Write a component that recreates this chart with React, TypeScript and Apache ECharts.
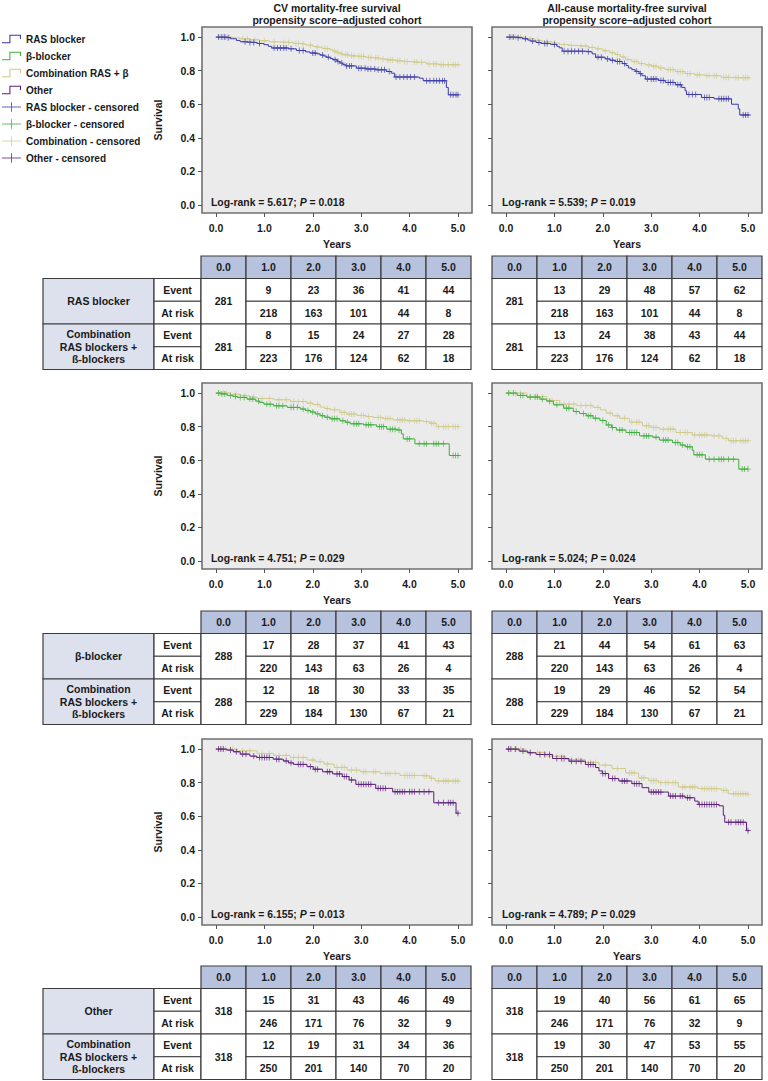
import React, { useEffect, useRef } from "react";
import * as echarts from "echarts";

const FONT = '"Liberation Sans", Arial, Helvetica, sans-serif';
const C_RAS = "#3a3aa8";
const C_BB = "#3fae3f";
const C_COMB = "#d0ca8c";
const C_OTHER = "#5c1f7a";

const TICKS_X = [0, 1, 2, 3, 4, 5];
const TICKS_Y = [0, 0.2, 0.4, 0.6, 0.8, 1.0];
const TABLE_HEAD = ["0.0", "1.0", "2.0", "3.0", "4.0", "5.0"];

// ---- Kaplan-Meier curves [years, survival] ----
const cvRas = [[0,1],[0.22,0.996],[0.3,0.99],[0.42,0.98],[0.5,0.972],[0.62,0.968],[0.85,0.962],[0.99,0.955],[1.08,0.945],[1.15,0.935],[1.5,0.93],[1.66,0.92],[1.85,0.912],[1.94,0.905],[2.08,0.9],[2.15,0.893],[2.22,0.887],[2.28,0.88],[2.36,0.872],[2.42,0.865],[2.5,0.855],[2.56,0.845],[2.62,0.836],[2.68,0.828],[2.9,0.815],[3.1,0.81],[3.3,0.805],[3.52,0.795],[3.62,0.785],[3.69,0.762],[4.2,0.755],[4.28,0.74],[4.76,0.7],[4.8,0.656],[5.02,0.656]];
const cvComb1 = [[0,1],[0.35,0.995],[0.5,0.99],[0.7,0.984],[0.9,0.978],[1.1,0.972],[1.32,0.968],[1.6,0.962],[1.75,0.958],[1.87,0.952],[2.0,0.945],[2.08,0.94],[2.2,0.932],[2.35,0.924],[2.42,0.916],[2.49,0.908],[2.56,0.9],[2.63,0.894],[2.75,0.888],[2.9,0.884],[3.1,0.879],[3.25,0.875],[3.4,0.869],[3.52,0.864],[3.7,0.859],[3.87,0.854],[4.05,0.851],[4.2,0.849],[4.35,0.84],[4.6,0.835],[5.02,0.833]];
const acRas = [[0,1],[0.2,0.996],[0.34,0.99],[0.45,0.982],[0.51,0.976],[0.62,0.968],[0.72,0.962],[0.92,0.956],[1.05,0.945],[1.1,0.936],[1.16,0.916],[1.64,0.912],[1.78,0.9],[1.85,0.88],[2.05,0.87],[2.15,0.862],[2.26,0.855],[2.4,0.842],[2.48,0.83],[2.53,0.816],[2.6,0.806],[2.67,0.796],[2.75,0.782],[2.81,0.77],[2.88,0.75],[3.15,0.742],[3.29,0.73],[3.5,0.716],[3.63,0.7],[3.7,0.68],[3.73,0.658],[4.04,0.64],[4.3,0.632],[4.66,0.6],[4.8,0.572],[4.83,0.536],[5.03,0.536]];
const acComb1 = [[0,1],[0.41,0.99],[0.6,0.98],[0.75,0.972],[0.95,0.964],[1.1,0.956],[1.3,0.95],[1.5,0.946],[1.7,0.938],[1.85,0.93],[2.0,0.918],[2.15,0.906],[2.26,0.896],[2.36,0.882],[2.47,0.866],[2.6,0.854],[2.74,0.842],[2.88,0.834],[3.01,0.826],[3.15,0.816],[3.29,0.806],[3.5,0.794],[3.7,0.782],[3.9,0.775],[4.11,0.77],[4.45,0.76],[4.7,0.757],[5.05,0.757]];
const cvBb = [[0,1],[0.1,0.995],[0.23,0.986],[0.35,0.98],[0.44,0.974],[0.64,0.964],[0.82,0.952],[0.9,0.944],[0.99,0.934],[1.19,0.924],[1.47,0.915],[1.74,0.905],[1.85,0.896],[1.95,0.887],[2.05,0.876],[2.15,0.865],[2.25,0.856],[2.36,0.847],[2.56,0.835],[2.68,0.826],[2.77,0.817],[3.05,0.811],[3.32,0.8],[3.53,0.785],[3.73,0.78],[3.83,0.757],[3.87,0.727],[4.11,0.698],[4.82,0.628],[5.03,0.628]];
const cvComb2 = [[0,1],[0.3,0.993],[0.5,0.984],[0.7,0.975],[0.85,0.968],[1.19,0.96],[1.54,0.95],[1.88,0.94],[2.0,0.932],[2.15,0.917],[2.25,0.908],[2.36,0.9],[2.56,0.885],[2.7,0.875],[2.91,0.867],[3.1,0.86],[3.25,0.855],[3.45,0.848],[3.66,0.84],[3.94,0.835],[4.28,0.83],[4.42,0.82],[4.55,0.8],[5.03,0.797]];
const acBb = [[0,1],[0.23,0.986],[0.43,0.976],[0.7,0.964],[0.84,0.952],[0.98,0.93],[1.19,0.91],[1.39,0.89],[1.52,0.878],[1.66,0.865],[1.8,0.85],[1.94,0.837],[2.07,0.81],[2.18,0.795],[2.28,0.78],[2.48,0.765],[2.76,0.745],[3.03,0.737],[3.17,0.72],[3.44,0.705],[3.6,0.69],[3.71,0.68],[3.85,0.658],[3.88,0.632],[4.12,0.606],[4.81,0.547],[5.01,0.547]];
const acComb2 = [[0,1],[0.43,0.98],[0.84,0.956],[1.11,0.934],[1.46,0.926],[1.8,0.915],[1.95,0.9],[2.07,0.88],[2.2,0.865],[2.35,0.85],[2.55,0.827],[2.82,0.805],[3.0,0.795],[3.17,0.785],[3.51,0.765],[3.85,0.75],[4.26,0.745],[4.47,0.73],[4.6,0.716],[5.01,0.716]];
const cvOther = [[0,1],[0.22,0.994],[0.36,0.984],[0.5,0.97],[0.7,0.958],[0.84,0.95],[1.18,0.94],[1.39,0.929],[1.5,0.918],[1.6,0.909],[1.88,0.895],[2.01,0.88],[2.2,0.865],[2.41,0.852],[2.61,0.836],[2.75,0.816],[2.89,0.79],[3.3,0.766],[3.65,0.746],[4.5,0.68],[4.96,0.618],[5.02,0.618]];
const cvComb3 = [[0,1],[0.44,0.99],[0.85,0.974],[1.19,0.962],[1.53,0.95],[1.88,0.935],[2.05,0.925],[2.23,0.911],[2.44,0.891],[2.71,0.875],[2.98,0.865],[3.39,0.855],[3.8,0.843],[4.21,0.84],[4.42,0.826],[4.53,0.81],[5.03,0.806]];
const acOther = [[0,1],[0.27,0.988],[0.45,0.978],[0.62,0.968],[0.96,0.944],[1.3,0.928],[1.64,0.908],[1.85,0.89],[1.92,0.87],[1.99,0.854],[2.12,0.824],[2.33,0.81],[2.6,0.794],[2.81,0.77],[2.95,0.744],[3.36,0.72],[3.7,0.71],[3.9,0.69],[3.97,0.67],[4.4,0.662],[4.49,0.606],[4.52,0.564],[4.97,0.514],[5.03,0.514]];
const acComb3 = [[0,1],[0.41,0.98],[0.82,0.958],[1.23,0.938],[1.64,0.92],[1.92,0.904],[2.19,0.884],[2.47,0.858],[2.74,0.828],[2.95,0.812],[3.15,0.8],[3.56,0.774],[3.97,0.764],[4.45,0.754],[4.59,0.734],[5.0,0.73]];

// ---- censoring times (years) ----
const cvRasCens = [0.05,0.12,0.18,0.25,0.6,0.7,0.78,0.9,1.2,1.27,1.33,1.4,1.45,1.55,1.72,1.8,2.0,2.05,2.2,2.32,2.46,2.52,2.6,2.7,2.76,2.8,2.95,3.0,3.08,3.14,3.2,3.28,3.35,3.42,3.48,3.58,3.72,3.8,3.88,3.95,4.02,4.1,4.35,4.42,4.5,4.56,4.62,4.68,4.72,4.85,4.9,4.96,5.0];
const cvComb1Cens = [0.08,0.15,0.2,0.28,0.55,0.65,0.8,1.0,1.2,1.4,1.5,1.65,1.7,1.8,1.95,2.1,2.25,2.3,2.45,2.52,2.6,2.68,2.72,2.8,2.85,2.95,3.0,3.05,3.15,3.2,3.3,3.35,3.45,3.55,3.6,3.65,3.75,3.8,3.9,3.95,4.1,4.15,4.25,4.4,4.5,4.55,4.65,4.7,4.8,4.9,4.95,5.0];
const acRasCens = [0.08,0.15,0.25,0.4,0.55,0.68,0.8,0.85,1.0,1.2,1.28,1.35,1.42,1.5,1.58,1.7,1.9,1.97,2.1,2.2,2.3,2.35,2.45,2.7,2.78,2.92,3.0,3.05,3.1,3.2,3.25,3.35,3.4,3.45,3.55,3.6,3.78,3.85,3.92,4.1,4.15,4.2,4.4,4.45,4.5,4.55,4.6,4.9,4.95,5.0];
const acComb1Cens = [0.06,0.12,0.2,0.3,0.5,0.65,0.85,1.0,1.2,1.35,1.55,1.65,1.78,1.9,2.05,2.2,2.3,2.42,2.52,2.65,2.7,2.8,2.95,3.05,3.1,3.2,3.35,3.4,3.45,3.55,3.6,3.65,3.75,3.8,3.95,4.0,4.15,4.2,4.3,4.35,4.5,4.55,4.6,4.75,4.8,4.9,4.95,5.0];
const cvBbCens = [0.05,0.12,0.18,0.3,0.4,0.5,0.58,0.7,0.76,0.88,1.05,1.12,1.25,1.3,1.38,1.55,1.6,1.68,1.8,1.9,2.0,2.1,2.2,2.3,2.4,2.45,2.5,2.62,2.72,2.85,2.9,2.95,3.1,3.15,3.2,3.38,3.42,3.46,3.6,3.65,3.7,3.78,3.95,4.0,4.2,4.3,4.35,4.5,4.55,4.6,4.7,4.9,4.95,5.0];
const cvComb2Cens = [0.08,0.15,0.22,0.4,0.6,0.78,0.95,1.1,1.3,1.45,1.6,1.7,1.8,1.95,2.1,2.3,2.45,2.6,2.65,2.75,2.8,2.85,3.0,3.05,3.15,3.35,3.4,3.5,3.55,3.6,3.75,3.8,3.85,3.9,4.0,4.1,4.15,4.2,4.35,4.45,4.5,4.6,4.7,4.75,4.8,4.9,4.95,5.0];
const acBbCens = [0.05,0.15,0.3,0.35,0.5,0.6,0.65,0.75,0.9,1.05,1.25,1.3,1.45,1.6,1.7,1.75,1.85,2.0,2.12,2.2,2.35,2.4,2.55,2.6,2.65,2.7,2.85,2.9,2.95,3.1,3.25,3.3,3.35,3.5,3.55,3.65,3.75,3.8,3.95,4.0,4.05,4.2,4.3,4.4,4.45,4.5,4.6,4.7,4.88,4.93,5.0];
const acComb2Cens = [0.08,0.2,0.3,0.5,0.62,0.75,0.95,1.2,1.3,1.4,1.55,1.65,1.75,1.9,2.15,2.3,2.45,2.6,2.7,2.75,2.9,2.95,3.05,3.1,3.25,3.35,3.4,3.45,3.6,3.7,3.75,3.9,4.0,4.05,4.1,4.15,4.3,4.4,4.55,4.65,4.7,4.75,4.85,4.9,4.95,5.0];
const cvOtherCens = [0.05,0.1,0.15,0.3,0.42,0.55,0.62,0.78,0.9,0.95,1.0,1.05,1.1,1.25,1.3,1.45,1.55,1.7,1.75,1.8,1.95,2.05,2.1,2.3,2.35,2.5,2.55,2.65,2.7,2.8,2.95,3.0,3.05,3.1,3.15,3.2,3.35,3.4,3.45,3.5,3.7,3.75,3.8,3.85,3.9,4.0,4.05,4.1,4.2,4.3,4.4,4.6,4.7,4.8,4.85,4.9,5.0];
const cvComb3Cens = [0.1,0.2,0.35,0.55,0.7,0.95,1.1,1.3,1.45,1.6,1.7,1.8,2.0,2.15,2.3,2.5,2.6,2.65,2.8,2.9,3.05,3.1,3.25,3.3,3.5,3.55,3.6,3.7,3.9,3.95,4.0,4.05,4.1,4.3,4.35,4.45,4.6,4.7,4.75,4.8,4.9,4.95,5.0];
const acOtherCens = [0.05,0.1,0.2,0.35,0.5,0.7,0.8,0.9,1.05,1.15,1.2,1.35,1.45,1.55,1.7,1.75,1.8,2.0,2.05,2.2,2.25,2.4,2.45,2.5,2.65,2.7,2.75,3.0,3.05,3.1,3.15,3.2,3.4,3.45,3.5,3.6,3.65,3.75,3.8,4.0,4.05,4.1,4.15,4.2,4.25,4.3,4.35,4.6,4.65,4.75,4.8,4.85,4.9,5.0];
const acComb3Cens = [0.08,0.18,0.3,0.5,0.65,0.9,1.05,1.15,1.35,1.5,1.75,1.85,2.05,2.3,2.55,2.6,2.65,2.8,2.85,3.0,3.05,3.1,3.2,3.3,3.35,3.45,3.5,3.65,3.7,3.8,3.85,3.9,4.05,4.1,4.15,4.2,4.25,4.3,4.35,4.5,4.55,4.7,4.75,4.8,4.85,4.9,4.95,5.0];

// ---- tables ----
const nRow1 = 281, nRow2 = 288, nRow3 = 318;
const rasEventCv = [9, 23, 36, 41, 44];
const rasEventAc = [13, 29, 48, 57, 62];
const rasAtRisk = [218, 163, 101, 44, 8];
const comb1EventCv = [8, 15, 24, 27, 28];
const comb1EventAc = [13, 24, 38, 43, 44];
const comb1AtRisk = [223, 176, 124, 62, 18];
const bbEventCv = [17, 28, 37, 41, 43];
const bbEventAc = [21, 44, 54, 61, 63];
const bbAtRisk = [220, 143, 63, 26, 4];
const comb2EventCv = [12, 18, 30, 33, 35];
const comb2EventAc = [19, 29, 46, 52, 54];
const comb2AtRisk = [229, 184, 130, 67, 21];
const otherEventCv = [15, 31, 43, 46, 49];
const otherEventAc = [19, 40, 56, 61, 65];
const otherAtRisk = [246, 171, 76, 32, 9];
const comb3EventCv = [12, 19, 31, 34, 36];
const comb3EventAc = [19, 30, 47, 53, 55];
const comb3AtRisk = [250, 201, 140, 70, 20];

const logRank = ["5.617", "5.539", "4.751", "5.024", "6.155", "4.789"];
const pValues = ["0.018", "0.019", "0.029", "0.024", "0.013", "0.029"];

const N_RAS = "RAS blocker";
const N_BB = "β-blocker";
const N_COMB = "Combination RAS + β";
const N_OTHER = "Other";
const N_RAS_C = "RAS blocker - censored";
const N_BB_C = "β-blocker - censored";
const N_COMB_C = "Combination - censored";
const N_OTHER_C = "Other - censored";

const PLUS = "path://M4.3,0h1.4v10h-1.4z M0,4.3h10v1.4h-10z";
const STEP_ICON = "path://M0,8h7v-7h11v4h-1v-3h-9v7h-8z";
const CENS_ICON = "path://M0,4.5h20v1h-20z M9.5,0h1v10h-1z";

function stepAt(curve: number[][], t: number) {
  let s = curve[0][1];
  for (const [x, y] of curve) {
    if (x <= t) s = y;
    else break;
  }
  return s;
}

const COL_X = [202, 492];
const ROW_Y = [27, 383, 739];
const GRID_W = 270;
const GRID_H = 186;
const TABLE_Y = [256, 611, 966];
const TABLE_X = [201, 492];
const HEAD_H = 22.5;
const ROW_H = 22.75;
const COL_W = 45;

export default function App() {
  const ref = useRef<HTMLDivElement>(null);
  useEffect(() => {
    if (!ref.current) return;
    const chart = echarts.init(ref.current, undefined, { renderer: "svg" });

    const panels = [
      { g: [cvRas, cvRasCens], c: [cvComb1, cvComb1Cens], color: C_RAS, name: N_RAS, cname: N_RAS_C },
      { g: [acRas, acRasCens], c: [acComb1, acComb1Cens], color: C_RAS, name: N_RAS, cname: N_RAS_C },
      { g: [cvBb, cvBbCens], c: [cvComb2, cvComb2Cens], color: C_BB, name: N_BB, cname: N_BB_C },
      { g: [acBb, acBbCens], c: [acComb2, acComb2Cens], color: C_BB, name: N_BB, cname: N_BB_C },
      { g: [cvOther, cvOtherCens], c: [cvComb3, cvComb3Cens], color: C_OTHER, name: N_OTHER, cname: N_OTHER_C },
      { g: [acOther, acOtherCens], c: [acComb3, acComb3Cens], color: C_OTHER, name: N_OTHER, cname: N_OTHER_C },
    ];

    const grids: any[] = [];
    const xAxes: any[] = [];
    const yAxes: any[] = [];
    const series: any[] = [];
    const graphics: any[] = [];
    const textBase = { fontFamily: FONT, fontWeight: "bold", color: "#1a1a1a" };

    panels.forEach((p, i) => {
      const r = Math.floor(i / 2);
      const c = i % 2;
      grids.push({
        left: COL_X[c], top: ROW_Y[r], width: GRID_W, height: GRID_H,
        show: true, backgroundColor: "#ebebeb", borderColor: "#707070", borderWidth: 1.6,
        containLabel: false, outerBoundsMode: "none",
      });
      xAxes.push({
        type: "value", gridIndex: i, min: -0.29, max: 5.29,
        axisLine: { show: false, onZero: false }, splitLine: { show: false },
        axisTick: { show: true, customValues: TICKS_X, length: 4, lineStyle: { color: "#555" } },
        axisLabel: { customValues: TICKS_X, formatter: (v: number) => v.toFixed(1), margin: 9, fontSize: 10.5, ...textBase },
        name: "Years", nameLocation: "middle", nameGap: 25,
        nameTextStyle: { fontSize: 10.5, ...textBase },
      });
      yAxes.push({
        type: "value", gridIndex: i, min: -0.048, max: 1.06,
        axisLine: { show: false, onZero: false }, splitLine: { show: false },
        axisTick: { show: true, customValues: TICKS_Y, length: 4, lineStyle: { color: "#555" } },
        axisLabel: { show: c === 0, customValues: TICKS_Y, formatter: (v: number) => v.toFixed(1), margin: 7, fontSize: 10.5, ...textBase },
        name: c === 0 ? "Survival" : "", nameLocation: "middle", nameGap: 39,
        nameTextStyle: { fontSize: 10.5, ...textBase },
      });
      const [cc, ccCens] = p.c as any;
      const [gc, gcCens] = p.g as any;
      series.push({
        type: "line", name: N_COMB, xAxisIndex: i, yAxisIndex: i, data: cc, step: "end",
        symbol: "none", color: C_COMB, lineStyle: { width: 1, color: C_COMB }, silent: true, z: 2,
      });
      series.push({
        type: "scatter", name: N_COMB_C, xAxisIndex: i, yAxisIndex: i,
        data: ccCens.map((t: number) => [t, stepAt(cc, t)]), symbol: PLUS, symbolSize: 6,
        itemStyle: { color: C_COMB }, color: C_COMB, silent: true, z: 3,
      });
      series.push({
        type: "line", name: p.name, xAxisIndex: i, yAxisIndex: i, data: gc, step: "end",
        symbol: "none", color: p.color, lineStyle: { width: 1, color: p.color }, silent: true, z: 4,
      });
      series.push({
        type: "scatter", name: p.cname, xAxisIndex: i, yAxisIndex: i,
        data: gcCens.map((t: number) => [t, stepAt(gc, t)]), symbol: PLUS, symbolSize: 6,
        itemStyle: { color: p.color }, color: p.color, silent: true, z: 5,
      });
      graphics.push({
        type: "text", x: c === 0 ? 211 : 502, y: ROW_Y[r] + GRID_H - 11, z: 10,
        style: {
          text: `Log-rank = ${logRank[i]}; {i|P} = ${pValues[i]}`,
          fontFamily: FONT, fontWeight: "bold", fontSize: 10.4, fill: "#1a1a1a",
          verticalAlign: "middle", textVerticalAlign: "middle",
          rich: { i: { fontFamily: FONT, fontWeight: "bold", fontStyle: "italic", fontSize: 10.4, fill: "#1a1a1a" } },
        },
      });
    });

    // column titles
    const titles = [
      "CV mortality-free survival\npropensity score–adjusted cohort",
      "All-cause mortality-free survival\npropensity score–adjusted cohort",
    ];
    titles.forEach((t, c) => {
      graphics.push({
        type: "text", x: COL_X[c] + GRID_W / 2, y: 1.5,
        style: {
          text: t, fontFamily: FONT, fontWeight: "bold", fontSize: 10.5, lineHeight: 12, fill: "#1a1a1a",
          align: "center", textAlign: "center", verticalAlign: "top", textVerticalAlign: "top",
        },
      });
    });

    // tables
    const HEAD_FILL = "#b7c2de";
    const LABEL_FILL = "#dde1ed";
    const STROKE = "#3c3c3c";
    const cell = (x: number, y: number, w: number, h: number, fill: string, text: string) => {
      graphics.push({
        type: "rect", shape: { x, y, width: w, height: h },
        style: { fill, stroke: STROKE, lineWidth: 1.2 }, z: 5,
      });
      graphics.push({
        type: "text", x: x + w / 2, y: y + h / 2, z: 6,
        style: {
          text, fontFamily: FONT, fontWeight: "bold", fontSize: 10.5, lineHeight: 12.5, fill: "#1a1a1a",
          align: "center", textAlign: "center", verticalAlign: "middle", textVerticalAlign: "middle",
        },
      });
    };
    const tables = [
      { r: 0, n: nRow1, label: "RAS blocker", ev: [rasEventCv, rasEventAc], ar: rasAtRisk, cev: [comb1EventCv, comb1EventAc], car: comb1AtRisk },
      { r: 1, n: nRow2, label: "β-blocker", ev: [bbEventCv, bbEventAc], ar: bbAtRisk, cev: [comb2EventCv, comb2EventAc], car: comb2AtRisk },
      { r: 2, n: nRow3, label: "Other", ev: [otherEventCv, otherEventAc], ar: otherAtRisk, cev: [comb3EventCv, comb3EventAc], car: comb3AtRisk },
    ];
    tables.forEach((tb) => {
      [0, 1].forEach((c) => {
        const x0 = TABLE_X[c];
        const y0 = TABLE_Y[tb.r];
        TABLE_HEAD.forEach((h, k) => cell(x0 + k * COL_W, y0, COL_W, HEAD_H, HEAD_FILL, h));
        const groups = [
          { label: tb.label, ev: tb.ev[c], ar: tb.ar },
          { label: "Combination\nRAS blockers +\nß-blockers", ev: tb.cev[c], ar: tb.car },
        ];
        groups.forEach((gr, gi) => {
          const gy = y0 + HEAD_H + gi * 2 * ROW_H;
          if (c === 0) {
            cell(43, gy, 111, 2 * ROW_H, LABEL_FILL, gr.label);
            cell(154, gy, 47, ROW_H, "#ffffff", "Event");
            cell(154, gy + ROW_H, 47, ROW_H, "#ffffff", "At risk");
          }
          cell(x0, gy, COL_W, 2 * ROW_H, "#ffffff", String(tb.n));
          for (let k = 0; k < 5; k++) {
            cell(x0 + (k + 1) * COL_W, gy, COL_W, ROW_H, "#ffffff", String(gr.ev[k]));
            cell(x0 + (k + 1) * COL_W, gy + ROW_H, COL_W, ROW_H, "#ffffff", String(gr.ar[k]));
          }
        });
      });
    });

    const option: any = {
      animation: false,
      backgroundColor: "#ffffff",
      textStyle: { fontFamily: FONT },
      legend: {
        orient: "vertical", left: -3, top: 29, itemWidth: 19, itemHeight: 10, itemGap: 7,
        padding: 5, selectedMode: false,
        textStyle: { fontSize: 10, fontWeight: "bold", color: "#1a1a1a", fontFamily: FONT },
        data: [
          { name: N_RAS, icon: STEP_ICON },
          { name: N_BB, icon: STEP_ICON },
          { name: N_COMB, icon: STEP_ICON },
          { name: N_OTHER, icon: STEP_ICON },
          { name: N_RAS_C, icon: CENS_ICON },
          { name: N_BB_C, icon: CENS_ICON },
          { name: N_COMB_C, icon: CENS_ICON },
          { name: N_OTHER_C, icon: CENS_ICON },
        ],
      },
      grid: grids,
      xAxis: xAxes,
      yAxis: yAxes,
      series,
      graphic: graphics,
    };
    chart.setOption(option);
    return () => chart.dispose();
  }, []);
  return (
    <div
      ref={ref}
      style={{ position: "absolute", left: 0, top: 0, width: 768, height: 1081, background: "#fff" }}
    />
  );
}
